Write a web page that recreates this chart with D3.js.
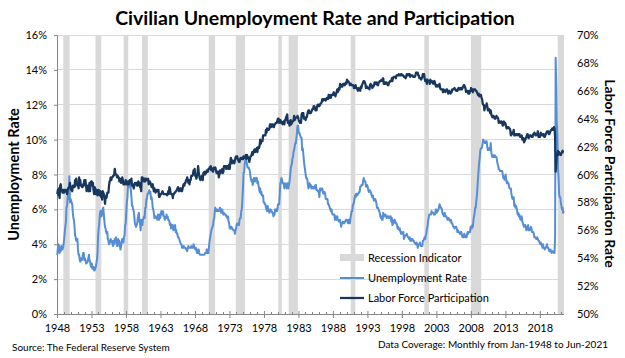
<!DOCTYPE html>
<html><head><meta charset="utf-8">
<script src="https://cdn.jsdelivr.net/npm/d3@7"></script>
<style>
body{margin:0;background:#fff}
svg{display:block}
text{font-family:Lato,"Open Sans",sans-serif;fill:#000}
</style>
</head><body>
<svg id="chart" width="625" height="358"></svg>
<script>
const startYear = 1948;
// Monthly civilian unemployment rate (%), Jan-1948 .. Jun-2021
const unemploymentRate = [
3.4,3.8,4.0,3.9,3.5,3.6,3.6,3.9,3.8,3.7,3.8,4.0,
4.3,4.7,5.0,5.3,6.1,6.2,6.7,6.8,6.6,7.9,6.4,6.6,
6.5,6.4,6.3,5.8,5.5,5.4,5.0,4.5,4.4,4.2,4.2,4.3,
3.7,3.4,3.4,3.1,3.0,3.2,3.1,3.1,3.3,3.5,3.5,3.1,
3.2,3.1,2.9,2.9,3.0,3.0,3.2,3.4,3.1,3.0,2.8,2.7,
2.9,2.6,2.6,2.7,2.5,2.5,2.6,2.7,2.9,3.1,3.5,4.5,
4.9,5.2,5.7,5.9,5.9,5.6,5.8,6.0,6.1,5.7,5.3,5.0,
4.9,4.7,4.6,4.7,4.3,4.2,4.0,4.2,4.1,4.3,4.2,4.2,
4.0,3.9,4.2,4.0,4.3,4.3,4.4,4.1,3.9,3.9,4.3,4.2,
4.2,3.9,3.7,3.9,4.1,4.3,4.2,4.1,4.4,4.5,5.1,5.2,
5.8,6.4,6.7,7.4,7.4,7.3,7.5,7.4,7.1,6.7,6.2,6.2,
6.0,5.9,5.6,5.2,5.1,5.0,5.1,5.2,5.5,5.7,5.8,5.3,
5.2,4.8,5.4,5.2,5.1,5.4,5.5,5.6,5.5,6.1,6.1,6.6,
6.6,6.9,6.9,7.0,7.1,6.9,7.0,6.6,6.7,6.5,6.1,6.0,
5.8,5.5,5.6,5.6,5.5,5.5,5.4,5.7,5.6,5.4,5.7,5.5,
5.7,5.9,5.7,5.7,5.9,5.6,5.6,5.4,5.5,5.5,5.7,5.5,
5.6,5.4,5.4,5.3,5.1,5.2,4.9,5.0,5.1,5.1,4.8,5.0,
4.9,5.1,4.7,4.8,4.6,4.6,4.4,4.4,4.3,4.2,4.1,4.0,
4.0,3.8,3.8,3.8,3.9,3.8,3.8,3.8,3.7,3.7,3.6,3.8,
3.9,3.8,3.8,3.8,3.8,3.9,3.8,3.8,3.8,4.0,3.9,3.8,
3.7,3.8,3.7,3.5,3.5,3.7,3.7,3.5,3.4,3.4,3.4,3.4,
3.4,3.4,3.4,3.4,3.4,3.5,3.5,3.5,3.7,3.7,3.5,3.5,
3.9,4.2,4.4,4.6,4.8,4.9,5.0,5.1,5.4,5.5,5.9,6.1,
5.9,5.9,6.0,5.9,5.9,5.9,6.0,6.1,6.0,5.8,6.0,6.0,
5.8,5.7,5.8,5.7,5.7,5.7,5.6,5.6,5.5,5.6,5.3,5.2,
4.9,5.0,4.9,5.0,4.9,4.9,4.8,4.8,4.8,4.6,4.8,4.9,
5.1,5.2,5.1,5.1,5.1,5.4,5.5,5.5,5.9,6.0,6.6,7.2,
8.1,8.1,8.6,8.8,9.0,8.8,8.6,8.4,8.4,8.4,8.3,8.2,
7.9,7.7,7.6,7.7,7.4,7.6,7.8,7.8,7.6,7.7,7.8,7.8,
7.5,7.6,7.4,7.2,7.0,7.2,6.9,7.0,6.8,6.8,6.8,6.4,
6.4,6.3,6.3,6.1,6.0,5.9,6.2,5.9,6.0,5.8,5.9,6.0,
5.9,5.9,5.8,5.8,5.6,5.7,5.7,6.0,5.9,6.0,5.9,6.0,
6.3,6.3,6.3,6.9,7.5,7.6,7.8,7.7,7.5,7.5,7.5,7.2,
7.5,7.4,7.4,7.2,7.5,7.5,7.2,7.4,7.6,7.9,8.3,8.5,
8.6,8.9,9.0,9.3,9.4,9.6,9.8,9.8,10.1,10.4,10.8,10.8,
10.4,10.4,10.3,10.2,10.1,10.1,9.4,9.5,9.2,8.8,8.5,8.3,
8.0,7.8,7.8,7.7,7.4,7.2,7.5,7.5,7.3,7.4,7.2,7.3,
7.3,7.2,7.2,7.3,7.2,7.4,7.4,7.1,7.1,7.1,7.0,7.0,
6.7,7.2,7.2,7.1,7.2,7.2,7.0,6.9,7.0,7.0,6.9,6.6,
6.6,6.6,6.6,6.3,6.3,6.2,6.1,6.0,5.9,6.0,5.8,5.7,
5.7,5.7,5.7,5.4,5.6,5.4,5.4,5.6,5.4,5.4,5.3,5.3,
5.4,5.2,5.0,5.2,5.2,5.3,5.2,5.2,5.3,5.3,5.4,5.4,
5.4,5.3,5.2,5.4,5.4,5.2,5.5,5.7,5.9,5.9,6.2,6.3,
6.4,6.6,6.8,6.7,6.9,6.9,6.8,6.9,6.9,7.0,7.0,7.3,
7.3,7.4,7.4,7.4,7.6,7.8,7.7,7.6,7.6,7.3,7.4,7.4,
7.3,7.1,7.0,7.1,7.1,7.0,6.9,6.8,6.7,6.8,6.6,6.5,
6.6,6.6,6.5,6.4,6.1,6.1,6.1,6.0,5.9,5.8,5.6,5.5,
5.6,5.4,5.4,5.8,5.6,5.6,5.7,5.7,5.6,5.5,5.6,5.6,
5.6,5.5,5.5,5.6,5.6,5.3,5.5,5.1,5.2,5.2,5.4,5.4,
5.3,5.2,5.2,5.1,4.9,5.0,4.9,4.8,4.9,4.7,4.6,4.7,
4.6,4.6,4.7,4.3,4.4,4.5,4.5,4.5,4.6,4.5,4.4,4.4,
4.3,4.4,4.2,4.3,4.2,4.3,4.3,4.2,4.2,4.1,4.1,4.0,
4.0,4.1,4.0,3.8,4.0,4.0,4.0,4.1,3.9,3.9,3.9,3.9,
4.2,4.2,4.3,4.4,4.3,4.5,4.6,4.9,5.0,5.3,5.5,5.7,
5.7,5.7,5.7,5.9,5.8,5.8,5.8,5.7,5.7,5.7,5.9,6.0,
5.8,5.9,5.9,6.0,6.1,6.3,6.2,6.1,6.1,6.0,5.8,5.7,
5.7,5.6,5.8,5.6,5.6,5.6,5.5,5.4,5.4,5.5,5.4,5.4,
5.3,5.4,5.2,5.2,5.1,5.0,5.0,4.9,5.0,5.0,5.0,4.9,
4.7,4.8,4.7,4.7,4.6,4.6,4.7,4.7,4.5,4.4,4.5,4.4,
4.6,4.5,4.4,4.5,4.4,4.6,4.7,4.6,4.7,4.7,4.7,5.0,
5.0,4.9,5.1,5.0,5.4,5.6,5.8,6.1,6.1,6.5,6.8,7.3,
7.8,8.3,8.7,9.0,9.4,9.5,9.5,9.6,9.8,10.0,9.9,9.9,
9.8,9.8,9.9,9.9,9.6,9.4,9.4,9.5,9.5,9.4,9.8,9.3,
9.1,9.0,9.0,9.1,9.0,9.1,9.0,9.0,9.0,8.8,8.6,8.5,
8.3,8.3,8.2,8.2,8.2,8.2,8.2,8.0,7.8,7.8,7.7,7.9,
8.0,7.7,7.5,7.6,7.5,7.5,7.3,7.2,7.2,7.2,6.9,6.7,
6.6,6.7,6.7,6.2,6.3,6.1,6.2,6.1,5.9,5.7,5.8,5.6,
5.7,5.5,5.4,5.4,5.6,5.3,5.2,5.1,5.0,5.0,5.1,5.0,
4.8,4.9,5.0,5.1,4.8,4.9,4.8,4.9,5.0,4.9,4.7,4.7,
4.7,4.6,4.4,4.4,4.4,4.3,4.3,4.4,4.3,4.2,4.2,4.1,
4.0,4.1,4.0,4.0,3.8,4.0,3.8,3.8,3.7,3.8,3.8,3.9,
4.0,3.8,3.8,3.7,3.6,3.6,3.7,3.6,3.5,3.6,3.6,3.6,
3.5,3.5,4.4,14.7,13.2,11.0,10.2,8.4,7.8,6.9,6.7,6.7,
6.4,6.2,6.0,6.1,5.8,5.9
];
// Monthly civilian labor force participation rate (%), Jan-1948 .. Jun-2021
const laborForceParticipation = [
58.6,58.9,58.5,59.0,58.3,59.2,59.3,58.9,58.9,58.7,58.7,58.9,
58.7,58.9,58.8,58.9,58.8,58.6,58.9,59.0,59.1,59.1,59.4,59.1,
58.9,58.9,58.8,59.2,59.1,59.1,59.1,59.6,59.2,59.7,59.3,59.3,
59.3,59.0,59.8,59.4,59.6,59.2,59.2,59.1,59.1,59.3,59.2,59.6,
59.4,59.6,59.2,58.8,59.1,59.2,59.0,58.8,59.4,58.8,59.4,59.5,
59.5,59.2,59.4,58.9,58.6,59.1,59.0,58.6,58.6,58.9,58.5,58.6,
58.9,58.8,58.5,58.8,58.4,58.5,58.2,58.8,58.7,58.6,58.5,57.9,
58.4,58.3,58.4,58.7,58.7,58.7,59.2,59.5,59.6,59.8,59.6,59.8,
59.8,59.9,59.9,60.0,60.4,60.1,60.0,60.0,59.8,59.9,59.8,59.8,
59.5,59.7,59.6,59.4,59.5,59.8,59.6,59.3,59.3,59.3,59.4,59.6,
59.3,59.3,59.3,59.5,59.5,59.3,59.6,59.6,59.5,59.7,59.2,59.3,
59.2,59.0,59.2,59.4,59.3,59.3,59.4,59.2,59.2,59.5,59.3,59.4,
59.1,59.1,58.8,59.8,59.8,59.7,59.6,59.5,59.7,59.5,59.7,59.6,
59.6,59.6,59.7,59.3,59.4,59.5,59.4,59.3,59.1,59.2,59.3,59.0,
58.8,59.0,58.8,58.7,58.9,58.8,58.8,58.9,58.9,58.4,58.4,58.5,
58.6,58.6,58.7,58.8,58.7,58.6,58.6,58.6,58.6,58.6,58.6,58.5,
58.6,58.8,58.6,59.1,59.0,58.7,58.6,58.6,58.6,58.3,58.6,58.6,
58.7,58.7,58.8,58.8,58.9,59.0,59.1,59.0,58.8,58.9,59.0,59.0,
58.8,58.8,59.0,59.2,59.3,59.2,59.4,59.4,59.6,59.6,59.8,59.6,
59.4,59.6,59.3,59.6,59.6,59.9,59.9,59.9,60.0,60.3,60.2,60.4,
59.9,59.9,59.7,59.9,60.1,60.6,60.2,59.9,59.7,59.6,59.7,59.9,
59.9,59.6,60.1,60.1,60.2,60.0,60.1,60.1,60.3,60.3,60.2,60.4,
60.4,60.5,60.4,60.6,60.3,60.3,60.4,60.2,60.5,60.4,60.4,60.5,
60.3,60.1,60.1,60.2,60.2,59.8,60.0,60.3,60.1,60.2,60.3,60.4,
60.1,60.2,60.6,60.6,60.6,60.6,60.4,60.6,60.6,60.6,60.4,60.7,
60.4,60.9,61.2,61.0,60.8,61.0,60.9,60.9,60.8,61.0,61.2,61.3,
61.2,61.3,61.1,61.0,60.9,60.9,61.1,61.2,61.2,61.1,61.2,61.1,
61.3,61.2,61.2,61.3,61.4,61.1,61.4,61.3,61.2,61.2,60.9,61.1,
61.3,61.3,61.4,61.6,61.4,61.6,61.7,61.8,61.6,61.7,61.8,61.9,
61.6,61.9,62.0,61.9,62.1,62.5,62.2,62.4,62.4,62.4,62.8,62.8,
62.8,62.8,62.8,63.2,63.0,63.3,63.2,63.2,63.2,63.3,63.6,63.6,
63.4,63.6,63.6,63.6,63.4,63.4,63.6,63.6,63.7,63.7,63.7,63.9,
64.0,64.0,63.7,63.8,63.9,63.7,63.8,63.7,63.6,63.7,63.8,63.6,
63.9,63.9,64.1,64.2,64.3,63.7,63.8,63.8,63.5,63.8,63.9,63.6,
63.7,63.8,63.8,63.9,64.2,63.9,64.0,64.1,64.1,64.1,64.2,64.1,
63.9,63.8,63.7,63.8,63.7,64.3,64.4,64.3,64.4,64.0,64.1,64.1,
63.9,64.1,64.1,64.3,64.5,64.6,64.6,64.4,64.4,64.4,64.5,64.6,
64.7,64.7,64.9,64.9,64.8,64.6,64.7,64.6,64.9,65.0,64.9,65.0,
64.9,65.0,65.1,65.1,65.2,65.4,65.4,65.3,65.4,65.4,65.4,65.3,
65.4,65.5,65.5,65.4,65.7,65.5,65.6,65.7,65.5,65.7,65.7,65.7,
65.8,65.9,65.7,65.8,65.6,65.8,65.9,66.1,65.9,66.0,66.2,66.1,
66.5,66.3,66.3,66.4,66.3,66.5,66.5,66.5,66.4,66.5,66.6,66.5,
66.8,66.7,66.7,66.6,66.6,66.4,66.5,66.5,66.4,66.4,66.4,66.4,
66.2,66.2,66.3,66.4,66.2,66.2,66.1,66.0,66.2,66.1,66.1,66.0,
66.3,66.2,66.4,66.5,66.6,66.7,66.7,66.6,66.5,66.2,66.3,66.3,
66.2,66.2,66.2,66.1,66.4,66.5,66.4,66.4,66.2,66.3,66.3,66.4,
66.6,66.6,66.5,66.5,66.6,66.4,66.4,66.6,66.6,66.7,66.7,66.7,
66.8,66.8,66.7,66.9,66.5,66.5,66.6,66.5,66.6,66.6,66.5,66.4,
66.4,66.6,66.6,66.7,66.7,66.7,66.9,66.7,66.9,67.0,67.0,67.0,
67.0,66.9,67.1,67.1,67.1,67.1,67.2,67.1,67.1,67.1,67.2,67.2,
67.1,67.1,67.1,67.0,67.0,67.0,66.9,67.0,67.2,67.2,67.1,67.2,
67.2,67.2,67.0,67.1,67.1,67.1,67.1,67.0,67.0,67.0,67.0,67.1,
67.3,67.3,67.3,67.3,67.1,67.1,66.9,66.9,66.9,66.8,66.9,67.0,
67.2,67.1,67.2,66.9,66.7,66.7,66.8,66.5,66.8,66.7,66.7,66.7,
66.5,66.8,66.6,66.7,66.7,66.6,66.5,66.6,66.7,66.6,66.4,66.3,
66.4,66.4,66.3,66.4,66.4,66.5,66.2,66.1,66.1,66.1,66.1,65.9,
66.1,66.0,66.0,65.9,66.0,66.1,66.1,66.0,65.8,65.9,66.0,65.9,
65.8,65.9,65.9,66.1,66.1,66.1,66.1,66.2,66.1,66.1,66.0,66.0,
66.0,66.1,66.2,66.1,66.1,66.2,66.1,66.2,66.1,66.2,66.3,66.4,
66.4,66.3,66.2,65.9,66.0,66.0,66.0,65.8,66.0,65.8,66.0,66.0,
66.2,66.0,66.1,65.9,66.1,66.1,66.1,66.1,66.0,66.0,65.9,65.8,
65.7,65.8,65.6,65.7,65.7,65.7,65.5,65.4,65.1,65.0,65.0,64.6,
64.8,64.9,64.9,65.1,64.9,64.6,64.6,64.7,64.6,64.4,64.6,64.3,
64.2,64.1,64.2,64.2,64.1,64.0,64.0,64.1,64.2,64.1,64.1,64.0,
63.7,63.8,63.8,63.7,63.7,63.8,63.7,63.5,63.6,63.8,63.6,63.7,
63.6,63.4,63.3,63.4,63.4,63.4,63.3,63.3,63.2,62.8,63.0,62.9,
62.9,63.0,63.2,62.8,62.8,62.8,62.9,62.9,62.8,62.9,62.9,62.8,
62.9,62.7,62.7,62.7,62.8,62.5,62.6,62.6,62.3,62.4,62.5,62.6,
62.7,62.8,62.9,62.8,62.6,62.7,62.8,62.8,62.8,62.7,62.7,62.7,
62.9,62.9,63.0,62.9,62.8,62.8,62.9,62.9,63.1,62.7,62.8,62.7,
62.7,63.0,62.9,62.9,62.8,62.9,62.9,62.7,62.7,62.8,62.9,63.0,
63.1,63.1,63.1,62.9,62.9,63.0,63.1,63.2,63.2,63.3,63.2,63.3,
63.4,63.3,62.7,60.2,60.8,61.4,61.4,61.7,61.4,61.6,61.5,61.5,
61.4,61.5,61.6,61.7,61.6,61.6
];
// Recession indicator periods (first and last flagged month)
const recessions = [
["1948-12","1949-10"],["1953-08","1954-05"],["1957-09","1958-04"],["1960-05","1961-02"],
["1970-01","1970-11"],["1973-12","1975-03"],["1980-02","1980-07"],["1981-08","1982-11"],
["1990-08","1991-03"],["2001-04","2001-11"],["2008-01","2009-06"],["2020-08","2021-06"]
];
const xTickYears = [1948,1953,1958,1963,1968,1973,1978,1983,1988,1993,1998,2003,2008,2013,2018];
const leftTicks = [0,2,4,6,8,10,12,14,16];
const rightTicks = [50,52,54,56,58,60,62,64,66,68,70];
const seriesNames = ["Recession Indicator","Unemployment Rate","Labor Force Participation"];

const W = 625, H = 358;
const m = {left:57, right:564, top:35, bottom:314};
const colors = {rec:"#d9d9d9", unemp:"#558ed5", lfp:"#17375e", grid:"#d9d9d9", axis:"#868686"};

const svg = d3.select("#chart");
const n = unemploymentRate.length;
const monthIndex = s => { const [y,mo] = s.split("-").map(Number); return (y-startYear)*12 + (mo-1); };

const x = d3.scaleLinear().domain([0, n]).range([m.left, m.right]);
const yL = d3.scaleLinear().domain([0, 16]).range([m.bottom, m.top]);
const yR = d3.scaleLinear().domain([50, 70]).range([m.bottom, m.top]);

// gridlines
svg.append("g").selectAll("line").data(leftTicks.filter(d=>d>0)).join("line")
  .attr("x1", m.left).attr("x2", m.right)
  .attr("y1", d=>yL(d)).attr("y2", d=>yL(d))
  .attr("stroke", colors.grid).attr("stroke-width", 1).attr("shape-rendering","crispEdges");

// recession bars
svg.append("g").selectAll("rect").data(recessions).join("rect")
  .attr("x", d=>x(monthIndex(d[0])))
  .attr("width", d=>x(monthIndex(d[1])+1)-x(monthIndex(d[0])))
  .attr("y", m.top).attr("height", m.bottom-m.top)
  .attr("fill", colors.rec);

// left axis
const gL = svg.append("g").attr("transform",`translate(${m.left},0)`)
  .call(d3.axisLeft(yL).tickValues(leftTicks).tickFormat(d=>d+"%").tickSize(3).tickPadding(7));
gL.select(".domain").attr("stroke", colors.axis);
gL.selectAll(".tick line").attr("stroke", colors.axis);
gL.selectAll("text").style("font-size","11px").style("font-family","Lato");

// right axis (labels only)
const gR = svg.append("g").attr("transform",`translate(${m.right},0)`)
  .call(d3.axisRight(yR).tickValues(rightTicks).tickFormat(d=>d+"%").tickSize(0).tickPadding(13));
gR.select(".domain").remove();
gR.selectAll("text").style("font-size","11px").style("font-family","Lato");

// bottom axis
const gB = svg.append("g").attr("transform",`translate(0,${m.bottom})`);
gB.append("line").attr("x1", m.left).attr("x2", m.right).attr("y1",0.5).attr("y2",0.5)
  .attr("stroke", colors.axis);
const minorIdx = d3.range(0, n+1, 12).filter(i => i % 60 !== 0);
gB.selectAll(".minor").data(minorIdx).join("line").attr("class","minor")
  .attr("x1", d=>Math.round(x(d))+0.5).attr("x2", d=>Math.round(x(d))+0.5)
  .attr("y1", -2).attr("y2", 0.5).attr("stroke", colors.axis);
const gBx = gB.append("g").call(d3.axisBottom(x).tickValues(xTickYears.map(yv=>(yv-startYear)*12))
  .tickFormat(d=>startYear + d/12).tickSize(4).tickPadding(6));
gBx.select(".domain").remove();
gBx.selectAll(".tick line").attr("stroke", colors.axis).attr("y1",-3);
gBx.selectAll("text").style("font-size","11px").style("font-family","Lato");

// lines
const lineU = d3.line().x((d,i)=>x(i+0.5)).y(d=>yL(d));
const lineP = d3.line().x((d,i)=>x(i+0.5)).y(d=>yR(d));
svg.append("path").datum(unemploymentRate).attr("d", lineU)
  .attr("fill","none").attr("stroke", colors.unemp).attr("stroke-width", 2).attr("stroke-linejoin","round");
svg.append("path").datum(laborForceParticipation).attr("d", lineP)
  .attr("fill","none").attr("stroke", colors.lfp).attr("stroke-width", 2.25).attr("stroke-linejoin","round");

// title
svg.append("text").attr("x", 315).attr("y", 25).attr("text-anchor","middle")
  .style("font-size","19.5px").style("font-weight","700").text("Civilian Unemployment Rate and Participation");

// axis titles
svg.append("text").attr("transform", `translate(19,${(m.top+m.bottom)/2}) rotate(-90)`)
  .attr("text-anchor","middle").style("font-size","14.5px").style("font-weight","700").text("Unemployment Rate");
svg.append("text").attr("transform", `translate(605,${(m.top+m.bottom)/2 - 1}) rotate(90)`)
  .attr("text-anchor","middle").style("font-size","14px").style("font-weight","700").text("Labor Force Participation Rate");

// legend
const lg = svg.append("g").attr("transform","translate(340,258)");
const rows = lg.selectAll("g").data(seriesNames).join("g").attr("transform",(d,i)=>`translate(0,${i*20})`);
rows.each(function(d,i){
  const g = d3.select(this);
  if (i===0) g.append("rect").attr("x",0).attr("y",-4).attr("width",24).attr("height",7).attr("fill",colors.rec);
  else g.append("line").attr("x1",0).attr("x2",24).attr("y1",0).attr("y2",0)
        .attr("stroke", i===1?colors.unemp:colors.lfp).attr("stroke-width", i===1?2:2.25);
  g.append("text").attr("x",28).attr("y",4).style("font-size","11px").text(d);
});

// footnotes
svg.append("text").attr("x",12).attr("y",351).style("font-size","10px").text("Source: The Federal Reserve System");
svg.append("text").attr("x",608).attr("y",348).attr("text-anchor","end").style("font-size","10px")
  .text("Data Coverage: Monthly from Jan-1948 to Jun-2021");
</script>
</body></html>
